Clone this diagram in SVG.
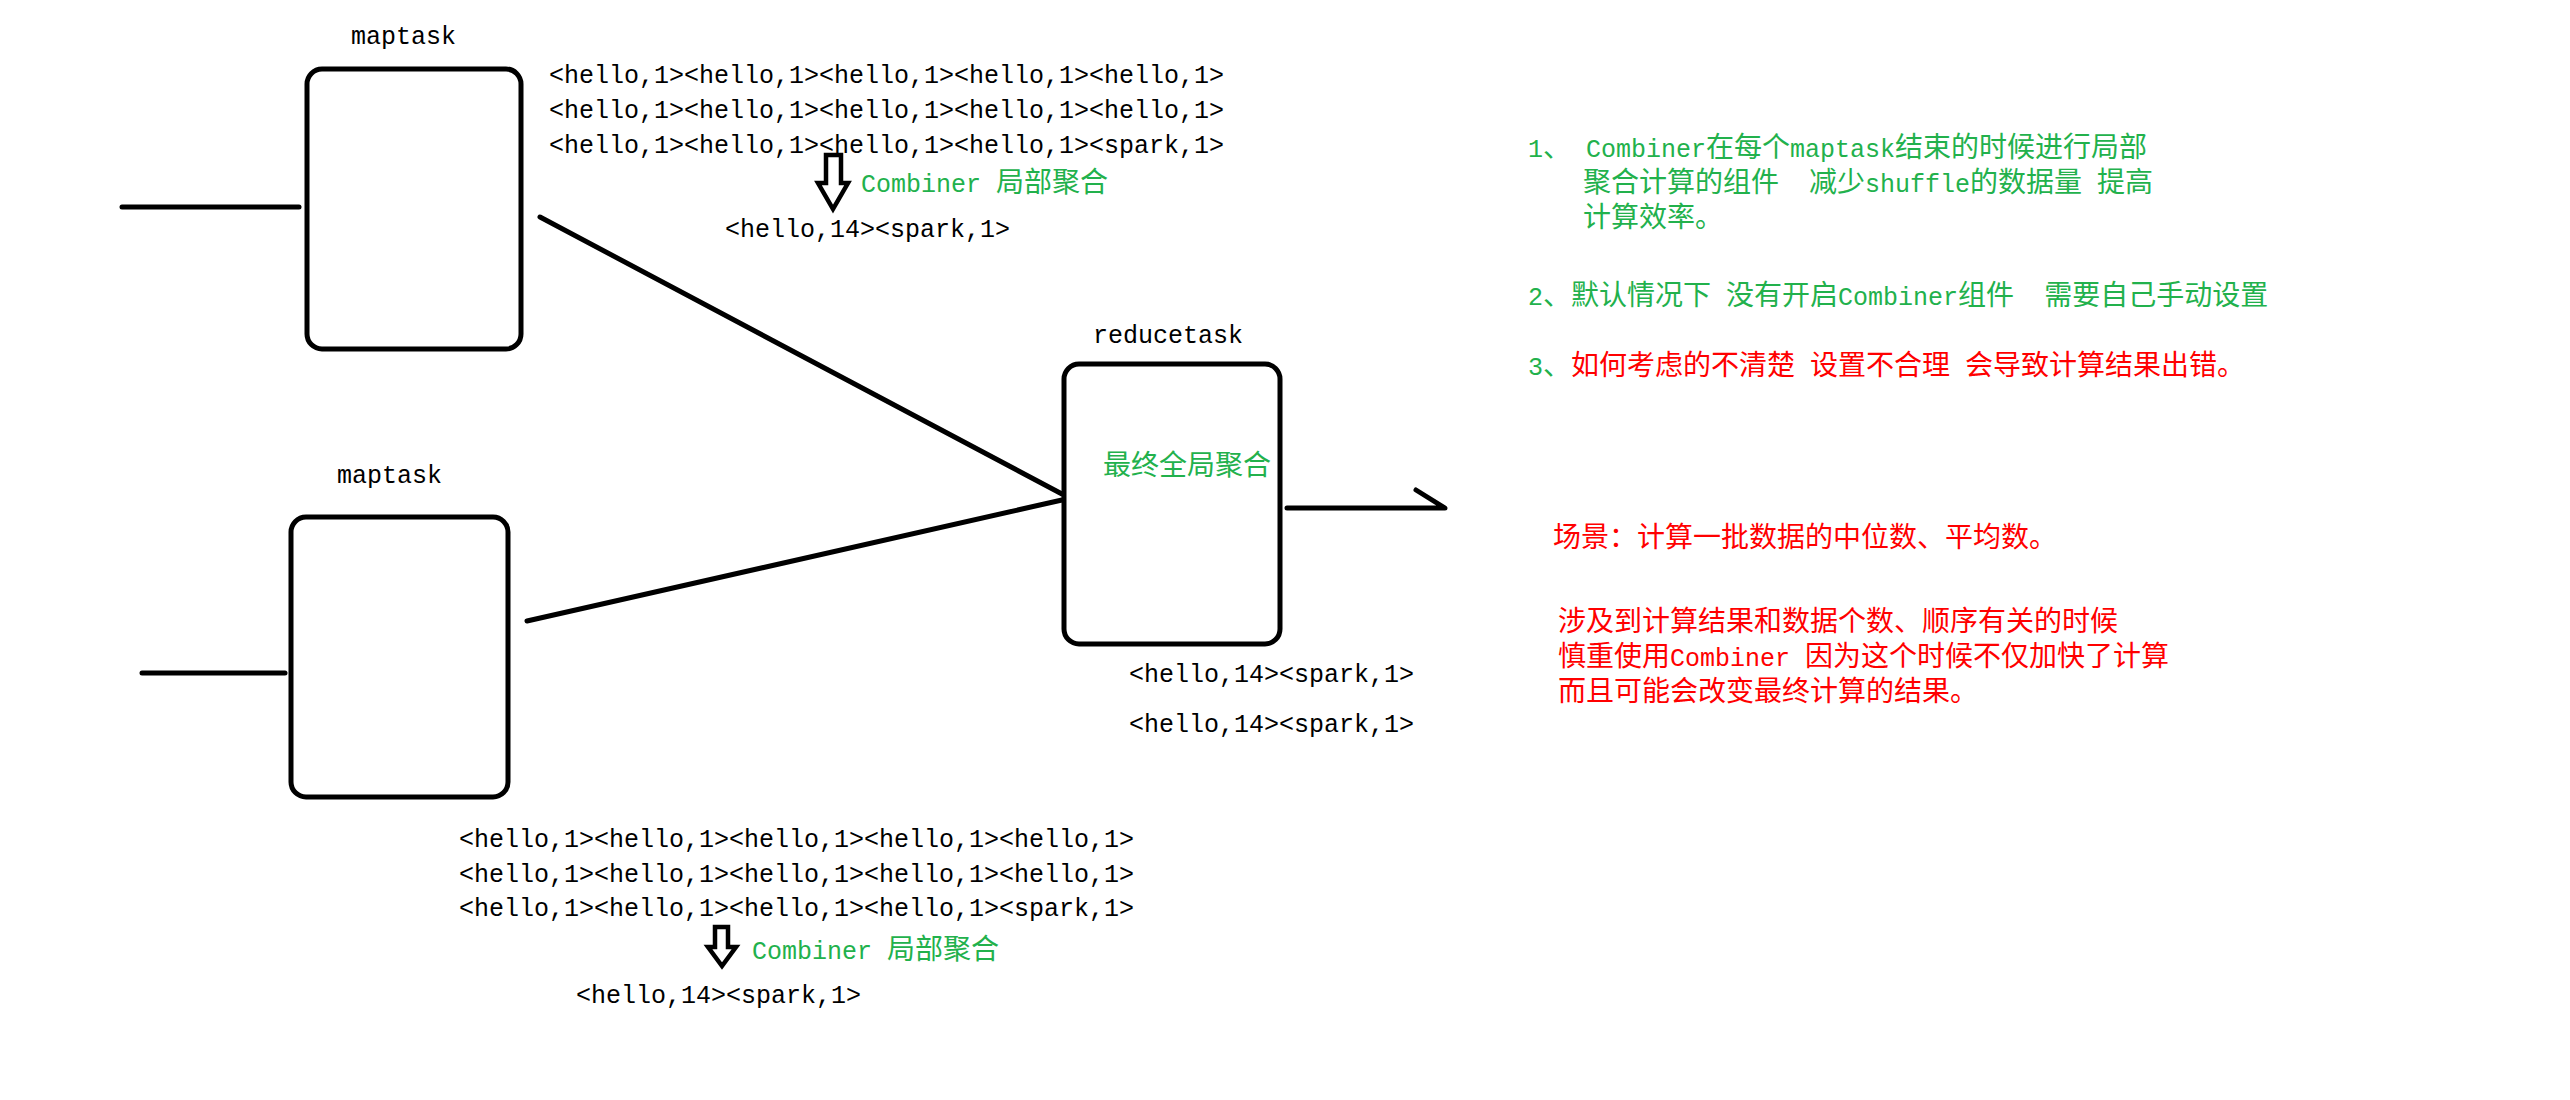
<svg xmlns="http://www.w3.org/2000/svg" width="2570" height="1100" viewBox="0 0 2570 1100">
<style>
text{font-family:"Liberation Mono","Noto Sans CJK SC",monospace;font-size:25px;fill:#000;white-space:pre}
.c{font-family:"Noto Sans CJK SC","Noto Sans CJK JP",sans-serif;font-size:28px}
.g{fill:#22b14c}
.r{fill:#ff0000}
.box{fill:#fff;stroke:#000;stroke-width:5}
.ln{fill:none;stroke:#000;stroke-width:5;stroke-linecap:round;stroke-linejoin:round}
.ar{fill:#fff;stroke:#000;stroke-width:4.5;stroke-linejoin:miter}
</style>
<rect width="2570" height="1100" fill="#fff"/>
<g id="connectors">
<line class="ln" x1="122" y1="207" x2="299" y2="207"/>
<line class="ln" x1="142" y1="673" x2="285" y2="673"/>
<line class="ln" x1="540" y1="217" x2="1062" y2="494"/>
<line class="ln" x1="527" y1="621" x2="1062" y2="500"/>
<polyline class="ln" points="1287,508 1445,508 1416,490"/>
<polygon class="ar" points="826,155 841,155 841,183 848,183 833,209 818,183 826,183"/>
<polygon class="ar" points="715,927 728,927 728,947 736,947 722,966 708,947 715,947"/>
</g>
<g id="maptask1">
<rect class="box" x="307" y="69" width="214" height="280" rx="15"/>
<text x="351" y="44">maptask</text>
</g>
<g id="maptask2">
<rect class="box" x="291" y="517" width="217" height="280" rx="15"/>
<text x="337" y="483">maptask</text>
</g>
<g id="reducetask">
<rect class="box" x="1064" y="364" width="216" height="280" rx="15"/>
<text x="1093" y="343">reducetask</text>
<text x="1103" y="475" class="g"><tspan class="c">最终全局聚合</tspan></text>
</g>
<g id="map1-data">
<text x="549" y="83">&lt;hello,1&gt;&lt;hello,1&gt;&lt;hello,1&gt;&lt;hello,1&gt;&lt;hello,1&gt;</text>
<text x="549" y="118">&lt;hello,1&gt;&lt;hello,1&gt;&lt;hello,1&gt;&lt;hello,1&gt;&lt;hello,1&gt;</text>
<text x="549" y="153">&lt;hello,1&gt;&lt;hello,1&gt;&lt;hello,1&gt;&lt;hello,1&gt;&lt;spark,1&gt;</text>
<text x="861" y="192" class="g">Combiner <tspan class="c">局部聚合</tspan></text>
<text x="725" y="237">&lt;hello,14&gt;&lt;spark,1&gt;</text>
</g>
<g id="map2-data">
<text x="459" y="847">&lt;hello,1&gt;&lt;hello,1&gt;&lt;hello,1&gt;&lt;hello,1&gt;&lt;hello,1&gt;</text>
<text x="459" y="882">&lt;hello,1&gt;&lt;hello,1&gt;&lt;hello,1&gt;&lt;hello,1&gt;&lt;hello,1&gt;</text>
<text x="459" y="916">&lt;hello,1&gt;&lt;hello,1&gt;&lt;hello,1&gt;&lt;hello,1&gt;&lt;spark,1&gt;</text>
<text x="752" y="959" class="g">Combiner <tspan class="c">局部聚合</tspan></text>
<text x="576" y="1003">&lt;hello,14&gt;&lt;spark,1&gt;</text>
</g>
<g id="reduce-data">
<text x="1129" y="682">&lt;hello,14&gt;&lt;spark,1&gt;</text>
<text x="1129" y="732">&lt;hello,14&gt;&lt;spark,1&gt;</text>
</g>
<g id="notes">
<text x="1528" y="157" class="g">1<tspan class="c">、</tspan> Combiner<tspan class="c">在每个</tspan>maptask<tspan class="c">结束的时候进行局部</tspan></text>
<text x="1583" y="192" class="g"><tspan class="c">聚合计算的组件</tspan>  <tspan class="c">减少</tspan>shuffle<tspan class="c">的数据量</tspan> <tspan class="c">提高</tspan></text>
<text x="1583" y="227" class="g"><tspan class="c">计算效率。</tspan></text>
<text x="1528" y="305" class="g">2<tspan class="c">、默认情况下</tspan> <tspan class="c">没有开启</tspan>Combiner<tspan class="c">组件</tspan>  <tspan class="c">需要自己手动设置</tspan></text>
<text x="1528" y="375" class="g">3<tspan class="c">、</tspan><tspan class="c r">如何考虑的不清楚</tspan><tspan class="r"> </tspan><tspan class="c r">设置不合理</tspan><tspan class="r"> </tspan><tspan class="c r">会导致计算结果出错。</tspan></text>
<text x="1553" y="547" class="r"><tspan class="c">场景：计算一批数据的中位数、平均数。</tspan></text>
<text x="1558" y="631" class="r"><tspan class="c">涉及到计算结果和数据个数、顺序有关的时候</tspan></text>
<text x="1558" y="666" class="r"><tspan class="c">慎重使用</tspan>Combiner <tspan class="c">因为这个时候不仅加快了计算</tspan></text>
<text x="1558" y="701" class="r"><tspan class="c">而且可能会改变最终计算的结果。</tspan></text>
</g>
</svg>
